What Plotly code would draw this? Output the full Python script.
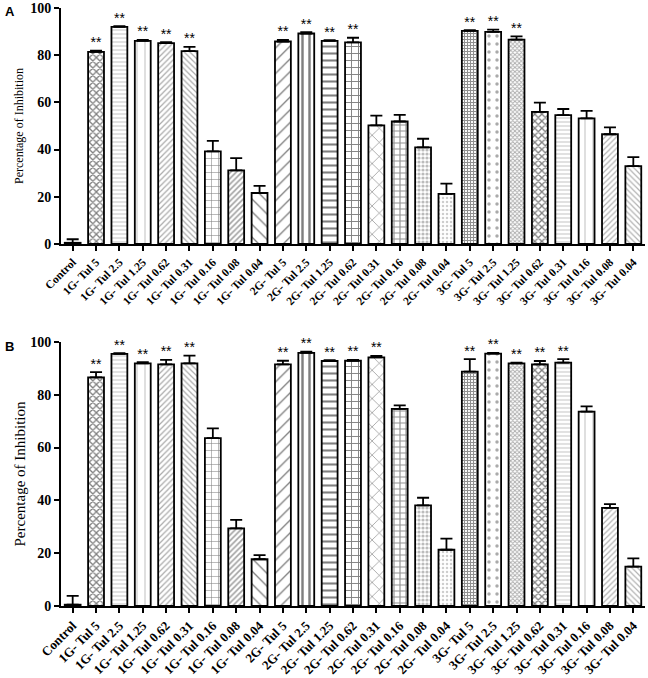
import plotly.graph_objects as go

categories = ["Control",
              "1G- Tul 5", "1G- Tul 2.5", "1G- Tul 1.25", "1G- Tul 0.62", "1G- Tul 0.31", "1G- Tul 0.16", "1G- Tul 0.08", "1G- Tul 0.04",
              "2G- Tul 5", "2G- Tul 2.5", "2G- Tul 1.25", "2G- Tul 0.62", "2G- Tul 0.31", "2G- Tul 0.16", "2G- Tul 0.08", "2G- Tul 0.04",
              "3G- Tul 5", "3G- Tul 2.5", "3G- Tul 1.25", "3G- Tul 0.62", "3G- Tul 0.31", "3G- Tul 0.16", "3G- Tul 0.08", "3G- Tul 0.04"]

values_a = [0.5, 81.4, 92.0, 86.1, 85.1, 81.7, 39.2, 31.2, 21.6,
            85.8, 89.2, 86.1, 85.4, 50.3, 51.9, 40.9, 21.2,
            90.3, 89.9, 86.6, 56.0, 54.6, 53.2, 46.5, 33.0]
errors_a = [1.5, 0.5, 0.3, 0.4, 0.4, 1.8, 4.5, 5.2, 3.0,
            0.7, 0.6, 0.3, 2.0, 4.1, 2.8, 3.7, 4.4,
            0.3, 0.9, 1.4, 3.9, 2.6, 3.2, 2.9, 3.8]
stars_a = ["", "**", "**", "**", "**", "**", "", "", "",
           "**", "**", "**", "**", "", "", "", "",
           "**", "**", "**", "", "", "", "", ""]

values_b = [0.5, 86.6, 95.5, 91.9, 91.5, 91.9, 63.6, 29.4, 17.7,
            91.5, 95.9, 92.8, 92.9, 94.2, 74.7, 38.1, 21.3,
            88.8, 95.6, 91.9, 91.5, 92.2, 73.6, 37.2, 14.9]
errors_b = [3.3, 2.0, 0.3, 0.5, 1.7, 2.9, 3.7, 3.2, 1.6,
            1.4, 0.4, 0.3, 0.3, 0.5, 1.3, 2.9, 4.2,
            4.7, 0.3, 0.3, 1.3, 1.3, 2.0, 1.4, 3.1]
stars_b = ["", "**", "**", "**", "**", "**", "", "", "",
           "**", "**", "**", "**", "**", "", "", "",
           "**", "**", "**", "**", "**", "", "", ""]

y_ticks = [0, 20, 40, 60, 80, 100]

# pattern styles per bar (same ordering in both panels)
p_shape = ["", "x", "-", "|", "/", "\\", "+", "/", "\\",
           "/", "|", "-", "+", "x", "+", ".", ".",
           "+", ".", "x", "x", "-", "|", "/", "\\"]
p_size = [8, 5, 4, 8, 4, 4, 7, 4, 9,
          9, 7, 7, 7, 10, 6, 4, 4,
          3, 8, 3, 5, 4, 8, 4, 4]
p_sol = [0.2, 0.45, 0.25, 0.12, 0.3, 0.3, 0.15, 0.4, 0.15,
         0.15, 0.35, 0.3, 0.25, 0.12, 0.35, 0.5, 0.3,
         0.6, 0.15, 0.5, 0.45, 0.25, 0.12, 0.3, 0.3]
p_col = ["#000000", "#000000", "#888888", "#777777", "#555555", "#555555", "#000000", "#444444", "#000000",
         "#000000", "#000000", "#000000", "#000000", "#000000", "#222222", "#777777", "#999999",
         "#222222", "#555555", "#555555", "#000000", "#888888", "#777777", "#666666", "#666666"]

fig = go.Figure()

panels = [("x", "y", values_a, errors_a, stars_a), ("x2", "y2", values_b, errors_b, stars_b)]
for xa, ya, vals, errs, stars in panels:
    fig.add_trace(go.Bar(
        x=categories, y=vals, xaxis=xa, yaxis=ya, width=0.68,
        marker=dict(color="white", line=dict(color="black", width=1.8),
                    pattern=dict(shape=p_shape, size=p_size, solidity=p_sol,
                                 fgcolor=p_col, bgcolor="white", fillmode="overlay")),
        error_y=dict(type="data", symmetric=False, array=errs, arrayminus=[0] * len(errs),
                     color="black", thickness=1.8, width=6),
        showlegend=False))
    fig.add_trace(go.Scatter(
        x=categories, y=[v + e for v, e in zip(vals, errs)], xaxis=xa, yaxis=ya,
        mode="text", text=stars, textposition="top center",
        textfont=dict(family="Liberation Sans", size=14, color="black"),
        cliponaxis=False, showlegend=False))

axis_common = dict(showline=True, linecolor="black", linewidth=2, ticks="outside",
                   ticklen=5, tickwidth=1.5, tickcolor="black", showgrid=False,
                   zeroline=False, automargin=False, ticklabeloverflow="allow")

fig.update_layout(
    width=648, height=678,
    margin=dict(l=61, r=3, t=8, b=72),
    plot_bgcolor="white", paper_bgcolor="white",
    showlegend=False,
    xaxis=dict(domain=[0, 1], anchor="y", range=[-0.5, 24.5], tickangle=-45,
               tickfont=dict(family="Liberation Serif", size=11.5, color="black", weight="bold"),
               **axis_common),
    yaxis=dict(domain=[0.6054, 1.0], anchor="x", range=[0, 100], tickvals=y_ticks,
               tickfont=dict(family="Liberation Serif", size=14, color="black", weight="bold"),
               title=dict(text="Percentage of Inhibition", standoff=4,
                          font=dict(family="Liberation Serif", size=12, color="black")),
               **axis_common),
    xaxis2=dict(domain=[0, 1], anchor="y2", range=[-0.5, 24.5], tickangle=-45,
                tickfont=dict(family="Liberation Serif", size=13, color="black", weight="bold"),
                **axis_common),
    yaxis2=dict(domain=[0.0, 0.4415], anchor="x2", range=[0, 100], tickvals=y_ticks,
                tickfont=dict(family="Liberation Serif", size=14, color="black", weight="bold"),
                title=dict(text="Percentage of Inhibition", standoff=1,
                           font=dict(family="Liberation Serif", size=15, color="black")),
                **axis_common),
    annotations=[
        dict(text="<b>A</b>", x=-0.0993, y=1.01, xref="paper", yref="paper",
             xanchor="left", yanchor="top", showarrow=False,
             font=dict(family="Liberation Sans", size=13, color="black")),
        dict(text="<b>B</b>", x=-0.0993, y=0.449, xref="paper", yref="paper",
             xanchor="left", yanchor="top", showarrow=False,
             font=dict(family="Liberation Sans", size=13, color="black")),
    ],
)

fig.write_html("out.html", config={"displayModeBar": False},
               post_script="document.body.style.margin='0';document.body.style.overflow='hidden';")
